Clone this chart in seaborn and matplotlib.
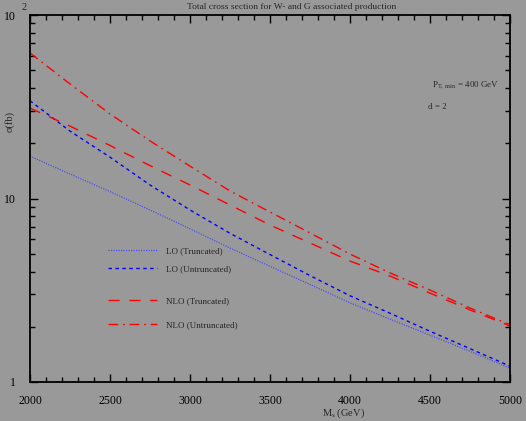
import numpy as np
import pandas as pd
import seaborn as sns
import matplotlib
matplotlib.use("Agg")
import matplotlib.pyplot as plt
from matplotlib.lines import Line2D
from matplotlib.ticker import FixedLocator, FixedFormatter, MultipleLocator, LogLocator, NullFormatter

# ---- data ----
ms = [2000, 2250, 2500, 2750, 3000, 3250, 3500, 3750, 4000, 4250, 4500, 4750, 5000]
lo_trunc = [17.0, 13.6, 10.9, 8.66, 6.84, 5.37, 4.27, 3.40, 2.70, 2.20, 1.80, 1.47, 1.19]
lo_untrunc = [34.1, 23.3, 16.8, 11.85, 8.66, 6.46, 4.95, 3.80, 2.95, 2.37, 1.89, 1.52, 1.22]
nlo_trunc = [31.1, 24.8, 19.45, 15.1, 11.85, 9.22, 7.17, 5.72, 4.56, 3.78, 3.05, 2.47, 2.02]
nlo_untrunc = [62.1, 42.1, 28.9, 20.6, 15.0, 10.99, 8.44, 6.49, 4.98, 3.93, 3.17, 2.53, 2.05]

labels = ["LO (Truncated)", "LO (Untruncated)", "NLO (Truncated)", "NLO (Untruncated)"]
title = "Total cross section for W- and G associated production"
xticks = [2000, 2500, 3000, 3500, 4000, 4500, 5000]
yticks = [1, 10, 100]
yticklabels = ["1", "10", "10"]
top_exponent = "2"

sns.set_theme(style="ticks")
plt.rcParams["font.family"] = ["Liberation Serif", "DejaVu Serif"]
plt.rcParams["mathtext.fontset"] = "custom"
plt.rcParams["mathtext.rm"] = "Liberation Serif"
plt.rcParams["mathtext.it"] = "Liberation Serif:italic"

bg = "#999999"
fig = plt.figure(figsize=(5.26, 4.21), dpi=100, facecolor=bg)
ax = fig.add_axes([30/526, 1-382/421, 480/526, 367/421])
ax.set_facecolor(bg)

styles = [
    dict(color="#5050f0", linestyle=(0, (1, 1)), lw=0.9),
    dict(color="#0000ff", linestyle=(0, (2.5, 2.5)), lw=1.0),
    dict(color="#ff0000", linestyle=(0, (8, 7)), lw=1.0),
    dict(color="#ff0000", linestyle=(0, (7, 3.5, 1.2, 3.5)), lw=1.0),
]
series = [lo_trunc, lo_untrunc, nlo_trunc, nlo_untrunc]
for vals, st in zip(series, styles):
    sns.lineplot(x=ms, y=vals, ax=ax, **st)

ax.set_yscale("log")
ax.set_xlim(2000, 5000)
ax.set_ylim(1, 100)
ax.xaxis.set_major_locator(FixedLocator(xticks))
ax.xaxis.set_minor_locator(MultipleLocator(100))
ax.yaxis.set_major_locator(FixedLocator(yticks))
ax.yaxis.set_major_formatter(FixedFormatter(yticklabels))
ax.yaxis.set_minor_locator(LogLocator(base=10, subs=np.arange(2, 10)))
ax.yaxis.set_minor_formatter(NullFormatter())
ax.tick_params(which="both", direction="in", top=True, right=True, colors="black",
               labelsize=8.5, width=1.0)
ax.tick_params(which="major", length=6)
ax.tick_params(axis="x", which="major", pad=9)
ax.tick_params(axis="y", which="major", pad=10)
ax.tick_params(which="minor", length=3.5)
for s in ax.spines.values():
    s.set_linewidth(1.3)
    s.set_color("black")

fig.text(22/526, 1-7/421, top_exponent, ha="left", va="center", fontsize=7.5)

ax.set_xlabel(r"M$_{\rm s}$ (GeV)", fontsize=7.5, labelpad=2)
ax.xaxis.set_label_coords(313/480, -25/367)
ax.set_ylabel("σ(fb)", fontsize=7.5)
ax.yaxis.set_label_coords(-15/480, 1-106/367)
fig.text(292/526, 1-7/421, title, ha="center", va="center", fontsize=6.8)

ax.text((432-30)/480, 1-(85-15)/367, r"P$_{\rm T,\ min}$ = 400 GeV", transform=ax.transAxes,
        fontsize=6.5, va="center", ha="left")
ax.text((428-30)/480, 1-(107-15)/367, "d = 2", transform=ax.transAxes,
        fontsize=6.5, va="center", ha="left")

handles = [Line2D([], [], **st) for st in styles]
leg1 = ax.legend(handles[:2], labels[:2], loc="upper left",
                 bbox_to_anchor=(78/480, 1-(247-15)/367),
                 frameon=False, fontsize=6.5, handlelength=5.4, handletextpad=1.0,
                 labelspacing=1.05, borderaxespad=0, borderpad=0)
ax.add_artist(leg1)
leg2 = ax.legend(handles[2:], labels[2:], loc="upper left",
                 bbox_to_anchor=(78/480, 1-(297-15)/367),
                 frameon=False, fontsize=6.5, handlelength=5.4, handletextpad=1.0,
                 labelspacing=1.75, borderaxespad=0, borderpad=0)

fig.savefig("out.png", dpi=100, facecolor=bg)
